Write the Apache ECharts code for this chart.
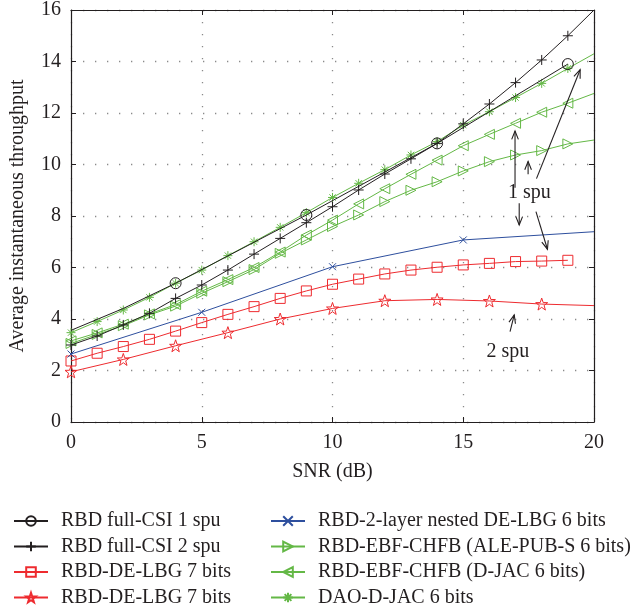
<!DOCTYPE html>
<html>
<head>
<meta charset="utf-8">
<script src="https://cdn.jsdelivr.net/npm/echarts@6/dist/echarts.min.js"></script>
<style>
html,body{margin:0;padding:0;background:#fff;}
#chart{width:638px;height:613px;}
</style>
</head>
<body>
<div id="chart"></div>
<script>
// ---------- data ----------
var snr = [0,1,2,3,4,5,6,7,8,9,10,11,12,13,14,15,16,17,18,19,20];
var xTicks = [0,5,10,15,20];
var yTicks = [0,2,4,6,8,10,12,14,16];

var seriesNames = [
  'RBD full-CSI 1 spu',
  'RBD full-CSI 2 spu',
  'RBD-DE-LBG 7 bits',
  'RBD-DE-LBG 7 bits ',
  'RBD-2-layer nested DE-LBG 6 bits',
  'RBD-EBF-CHFB (ALE-PUB-S 6 bits)',
  'RBD-EBF-CHFB (D-JAC 6 bits)',
  'DAO-D-JAC 6 bits'
];

// full-CSI 1 spu (markers at 4, 9, 14, 19)
var csi1X = [0, 2, 4, 9, 14, 19];
var csi1Y = [3.56, 4.41, 5.39, 8.04, 10.82, 13.9];
var csi1Marked = [4, 9, 14, 19];

// full-CSI 2 spu
var csi2Y = [2.99, 3.34, 3.77, 4.22, 4.8, 5.32, 5.90, 6.52, 7.13, 7.74, 8.36, 9.01, 9.63, 10.22, 10.82, 11.58, 12.35, 13.18, 14.06, 15.0, 16.0];

// RBD-DE-LBG 7 bits (squares), SNR 0..19
var lbgSqY = [2.37, 2.67, 2.93, 3.21, 3.53, 3.86, 4.18, 4.48, 4.8, 5.09, 5.35, 5.55, 5.75, 5.9, 6.01, 6.1, 6.16, 6.23, 6.25, 6.28];

// RBD-DE-LBG 7 bits (stars)
var lbgStarX = [0, 2, 4, 6, 8, 10, 12, 14, 16, 18, 20];
var lbgStarY = [1.95, 2.43, 2.96, 3.47, 4.0, 4.41, 4.71, 4.76, 4.7, 4.58, 4.52];

// RBD-2-layer nested DE-LBG 6 bits
var nestedX = [0, 5, 10, 15, 20];
var nestedY = [2.64, 4.26, 6.03, 7.07, 7.39];

// RBD-EBF-CHFB (ALE-PUB-S 6 bits)
var aleY = [3.05, 3.4, 3.74, 4.16, 4.5, 5.0, 5.45, 5.92, 6.55, 7.07, 7.59, 8.04, 8.56, 9.0, 9.33, 9.75, 10.11, 10.37, 10.54, 10.8, 10.95];

// RBD-EBF-CHFB (D-JAC 6 bits)
var djacY = [3.15, 3.46, 3.8, 4.2, 4.56, 5.08, 5.53, 6.0, 6.6, 7.26, 7.84, 8.47, 9.06, 9.62, 10.17, 10.73, 11.17, 11.6, 12.03, 12.38, 12.76];

// DAO-D-JAC 6 bits
var daoY = [3.47, 3.9, 4.35, 4.84, 5.39, 5.90, 6.46, 7.0, 7.56, 8.13, 8.72, 9.27, 9.80, 10.37, 10.89, 11.53, 12.05, 12.6, 13.15, 13.73, 14.3];

// annotations (data coordinates)
var arrows = [
  [[16.98, 9.1], [16.98, 11.3]],
  [[17.48, 9.62], [17.48, 10.12]],
  [[17.8, 9.45], [19.47, 13.68]],
  [[17.14, 8.5], [17.14, 7.65]],
  [[17.78, 8.17], [18.22, 6.71]],
  [[16.79, 3.51], [16.95, 4.16]]
];
var labels = [
  {text: '1 spu', at: [17.53, 8.89]},
  {text: '2 spu', at: [16.71, 2.72]}
];

// ---------- styling ----------
var FONT = 'Liberation Serif';
var BLACK = '#231f20', RED = '#ee2b2f', BLUE = '#2e4f9e', GREEN = '#64b846';
var CLEAR = 'rgba(255,255,255,0)';

function starPath() {
  var pts = [];
  for (var i = 0; i < 10; i++) {
    var a = (-90 + i * 36) * Math.PI / 180;
    var r = (i % 2 === 0) ? 50 : 20;
    pts.push((50 + r * Math.cos(a)).toFixed(2) + ',' + (50 + r * Math.sin(a)).toFixed(2));
  }
  return 'path://M' + pts.join('L') + 'Z';
}
var SYM_PLUS = 'path://M50,0L50,100M0,50L100,50';
var SYM_CROSS = 'path://M0,0L100,100M100,0L0,100';
var SYM_AST = 'path://M50,0L50,100M0,50L100,50M15,15L85,85M85,15L15,85';
var SYM_RIGHT = 'path://M0,0L100,50L0,100Z';
var SYM_LEFT = 'path://M100,0L0,50L100,100Z';
var SYM_STAR = starPath();

function pairs(xs, ys, markedXs, lastNoMark) {
  return xs.map(function (x, i) {
    var item = {value: [x, ys[i]]};
    var noMark = (markedXs && markedXs.indexOf(x) < 0) || (lastNoMark && i === xs.length - 1);
    if (noMark) item.symbol = 'none';
    return item;
  });
}

function mkSeries(name, data, color, symbol, size, z) {
  return {
    name: name, type: 'line', data: data,
    symbol: symbol, symbolSize: size, showAllSymbol: true,
    lineStyle: {color: color, width: 1},
    itemStyle: {color: CLEAR, borderColor: color, borderWidth: 1},
    emphasis: {disabled: true},
    z: z || 2
  };
}

var series = [
  mkSeries(seriesNames[0], pairs(csi1X, csi1Y, csi1Marked, false), BLACK, 'circle', 11, 3),
  mkSeries(seriesNames[1], pairs(snr, csi2Y, null, true), BLACK, SYM_PLUS, 10, 3),
  mkSeries(seriesNames[2], pairs(snr.slice(0, lbgSqY.length), lbgSqY, null, false), RED, 'rect', 10),
  mkSeries(seriesNames[3], pairs(lbgStarX, lbgStarY, null, true), RED, SYM_STAR, 12),
  mkSeries(seriesNames[4], pairs(nestedX, nestedY, null, true), BLUE, SYM_CROSS, 7),
  mkSeries(seriesNames[5], pairs(snr, aleY, null, true), GREEN, SYM_RIGHT, 10),
  mkSeries(seriesNames[6], pairs(snr, djacY, null, true), GREEN, SYM_LEFT, 10),
  mkSeries(seriesNames[7], pairs(snr, daoY, null, true), GREEN, SYM_AST, 9)
];

var labelStyle = {fontFamily: FONT, fontSize: 20, color: BLACK};
var gridDots = {show: true, lineStyle: {color: '#8a8a8a', width: 1.3, type: [1.3, 10.7]}};

function legendCfg(names, left) {
  return {
    type: 'plain',
    data: names, orient: 'vertical', left: left, top: 511, height: 100,
    padding: 0,
    itemWidth: 34, itemHeight: 12, itemGap: 5.5,
    formatter: function (n) { return n.trim(); },
    textStyle: {fontFamily: FONT, fontSize: 20, lineHeight: 20, color: BLACK, padding: [0, 0, 0, 8]},
    selectedMode: false
  };
}

var option = {
  animation: false,
  backgroundColor: '#fff',
  grid: {left: 71, right: 44, top: 10, bottom: 191, containLabel: false},
  xAxis: [
    {type: 'value', min: xTicks[0], max: xTicks[xTicks.length - 1], interval: 5,
     name: 'SNR (dB)', nameLocation: 'middle', nameGap: 40, nameTextStyle: labelStyle,
     axisLine: {show: true, onZero: false, lineStyle: {color: BLACK, width: 1.2}},
     axisTick: {show: true, inside: true, length: 5, lineStyle: {color: BLACK}},
     axisLabel: {show: true, margin: 11, fontFamily: FONT, fontSize: 20, color: BLACK},
     splitLine: gridDots},
    {type: 'value', position: 'top', min: xTicks[0], max: xTicks[xTicks.length - 1], interval: 5,
     axisLine: {show: true, onZero: false, lineStyle: {color: BLACK, width: 1.2}},
     axisTick: {show: true, inside: true, length: 5, lineStyle: {color: BLACK}},
     axisLabel: {show: false}, splitLine: {show: false}}
  ],
  yAxis: [
    {type: 'value', min: yTicks[0], max: yTicks[yTicks.length - 1], interval: 2,
     name: 'Average instantaneous throughput', nameLocation: 'middle', nameGap: 43, nameTextStyle: labelStyle,
     axisLine: {show: true, onZero: false, lineStyle: {color: BLACK, width: 1.2}},
     axisTick: {show: true, inside: true, length: 5, lineStyle: {color: BLACK}},
     axisLabel: {show: true, margin: 10, fontFamily: FONT, fontSize: 20, color: BLACK},
     splitLine: gridDots},
    {type: 'value', position: 'right', min: yTicks[0], max: yTicks[yTicks.length - 1], interval: 2,
     axisLine: {show: true, onZero: false, lineStyle: {color: BLACK, width: 1.2}},
     axisTick: {show: true, inside: true, length: 5, lineStyle: {color: BLACK}},
     axisLabel: {show: false}, splitLine: {show: false}}
  ],
  legend: [legendCfg(seriesNames.slice(0, 4), 13), legendCfg(seriesNames.slice(4), 270)],
  series: series
};

var chart = echarts.init(document.getElementById('chart'), null, {renderer: 'canvas'});
chart.setOption(option);

// annotations positioned through the axes' scales
function px(p) { return chart.convertToPixel({xAxisIndex: 0, yAxisIndex: 0}, p); }
var graphics = [];
arrows.forEach(function (a) {
  var p0 = px(a[0]), p1 = px(a[1]);
  var ang = Math.atan2(p1[1] - p0[1], p1[0] - p0[0]);
  var L = 9, spread = 0.38;
  var h1 = [p1[0] - L * Math.cos(ang - spread), p1[1] - L * Math.sin(ang - spread)];
  var h2 = [p1[0] - L * Math.cos(ang + spread), p1[1] - L * Math.sin(ang + spread)];
  graphics.push({type: 'polyline', shape: {points: [p0, p1]}, style: {stroke: BLACK, lineWidth: 1.1, fill: null}, z: 10});
  graphics.push({type: 'polyline', shape: {points: [h1, p1, h2]}, style: {stroke: BLACK, lineWidth: 1.1, fill: null}, z: 10});
});
labels.forEach(function (l) {
  var p = px(l.at);
  graphics.push({type: 'text', x: p[0], y: p[1], style: {text: l.text, fontFamily: FONT, fontSize: 20, fill: BLACK, align: 'center', verticalAlign: 'middle'}, z: 10});
});
chart.setOption({graphic: graphics});
</script>
</body>
</html>
